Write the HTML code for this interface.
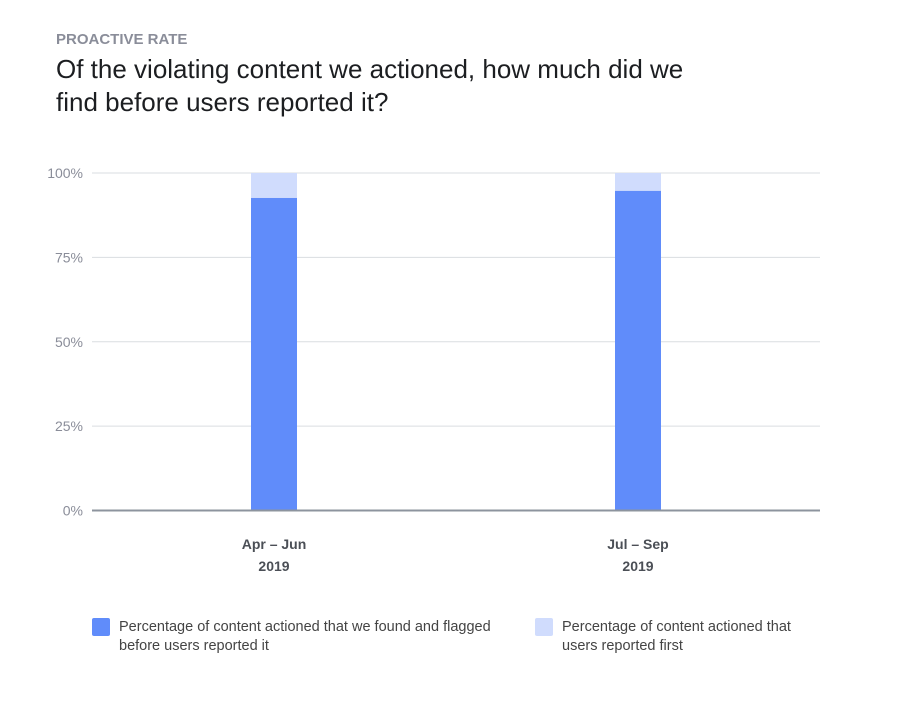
<!DOCTYPE html>
<html><head><meta charset="utf-8"><style>
body{margin:0;background:#fff;font-family:"Liberation Sans",Arial,sans-serif;}
.wrap{position:relative;width:915px;height:716px;overflow:hidden}
</style></head><body>
<div class="wrap">
<div style="position:absolute;left:56px;top:31px;font-size:15px;font-weight:bold;color:#8a8d99;">PROACTIVE RATE</div>
<div style="position:absolute;left:56px;top:53px;font-size:26px;line-height:33px;color:#1c1e21;width:670px;">Of the violating content we actioned, how much did we find before users reported it?</div>
<svg id="c" width="915" height="716" style="position:absolute;left:0;top:0"></svg>
<div>
<div style="position:absolute;left:92px;top:618px;width:410px;font-size:14.5px;line-height:19px;color:#444;">
<span style="position:absolute;left:0;top:0;width:18px;height:18px;background:#608cfa;border-radius:2px"></span>
<div style="margin-left:27px">Percentage of content actioned that we found and flagged before users reported it</div></div>
<div style="position:absolute;left:535px;top:618px;width:270px;font-size:14.5px;line-height:19px;color:#444;">
<span style="position:absolute;left:0;top:0;width:18px;height:18px;background:#d0dcfd;border-radius:2px"></span>
<div style="margin-left:27px">Percentage of content actioned that users reported first</div></div>
</div>
</div>
<script>
const categories=["Apr – Jun","Jul – Sep"];
const years=["2019","2019"];
const foundValues=[92.6,94.7];
const yTicks=[0,25,50,75,100];
const NS="http://www.w3.org/2000/svg";
const svg=document.getElementById('c');
const x0=92,x1=820,yBase=510.5,yTop=173;
const y=v=>yBase-(v/100)*(yBase-yTop);
const band=(x1-x0)/categories.length;
const bx=i=>x0+band*(i+0.5);
function mk(t,a){const e=document.createElementNS(NS,t);for(const k in a)e.setAttribute(k,a[k]);svg.appendChild(e);return e;}
yTicks.forEach(t=>{
 if(t>0){const l=mk('line',{x1:x0,x2:x1,y1:y(t),y2:y(t),stroke:'#dadde1','stroke-width':1});
 
 }
 const tx=mk('text',{x:83,y:y(t)+5,'text-anchor':'end','font-size':14,fill:'#8a8d99','font-family':'Liberation Sans, sans-serif'});
 tx.textContent=t+'%';
 
 
});
categories.forEach((c,i)=>{
 const w=46,cx=bx(i);
 const r1=mk('rect',{x:cx-w/2,y:y(100),width:w,height:y(foundValues[i])-y(100),fill:'#d0dcfd'});
 
 
 const r2=mk('rect',{x:cx-w/2,y:y(foundValues[i]),width:w,height:yBase-y(foundValues[i]),fill:'#608cfa'});
 
 
 const t1=mk('text',{x:cx,y:549,'text-anchor':'middle','font-size':14,'font-weight':'bold',fill:'#4b4f56','font-family':'Liberation Sans, sans-serif'});
 t1.textContent=c;
 
 
 const t2=mk('text',{x:cx,y:571,'text-anchor':'middle','font-size':14,'font-weight':'bold',fill:'#4b4f56','font-family':'Liberation Sans, sans-serif'});
 t2.textContent=years[i];
 
 
});
const ax=mk('line',{x1:x0,x2:x1,y1:yBase,y2:yBase,stroke:'#8d949e','stroke-width':2});


</script>
</body></html>
